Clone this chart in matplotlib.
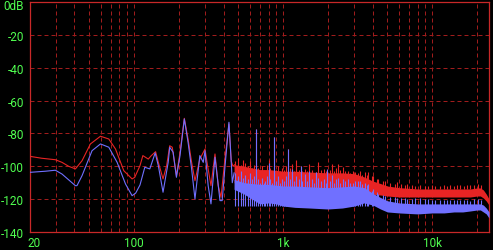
import matplotlib
matplotlib.use("Agg")
import matplotlib.pyplot as plt
from matplotlib.ticker import FixedLocator, NullFormatter
from matplotlib.transforms import ScaledTranslation

# low frequency part of both traces (Hz, dB)
red_f = [20, 24.1, 29.8, 33.0, 36.6, 40.6, 45.0, 51.2, 59.8, 68.0, 75.4, 85.7, 97.4, 101.5,
         110, 115, 125, 131, 140, 146, 157, 166, 174, 181, 193, 204, 218, 231, 244, 257,
         277, 300, 312, 329, 350, 368, 384, 408, 434, 450, 462, 475]
red_db = [-93.9, -95.1, -96.0, -97.6, -100.0, -101.6, -96.6, -86.4, -81.7, -83.4, -89.5,
          -102.7, -107.7, -106.7, -99.6, -93.5, -95.6, -93.5, -91.1, -97.6, -107.7, -99.6,
          -87.5, -88.4, -105.7, -91.5, -70.8, -83.4, -97.6, -108.8, -95.6, -89.5, -99.6,
          -111.8, -92.5, -111.8, -118.9, -95.6, -74.3, -97.0, -100.0, -99.0]

blue_f = [20, 25.6, 29.8, 33.0, 40.6, 41.6, 45.0, 52.5, 59.8, 68.0, 77.3, 88.0, 97.4, 103,
          110, 118.5, 128, 139, 146, 157, 170, 174, 183.5, 193, 204, 218, 231, 244, 257,
          277, 292, 300, 315, 329, 350, 378, 391, 408, 434, 450, 457, 470]
blue_db = [-103.7, -103.0, -102.4, -104.7, -111.8, -111.8, -105.7, -90.5, -86.4, -88.4,
           -97.6, -110.8, -117.9, -116.3, -111.4, -100.6, -101.6, -91.9, -99.6, -115.8,
           -97.6, -88.4, -91.5, -106.7, -93.5, -71.2, -85.4, -101.6, -119.9, -93.5, -97.6,
           -90.5, -111.8, -122.9, -94.5, -120.9, -120.9, -100.6, -73.2, -98.0, -110.0, -104.0]

# dense part above ~470 Hz: core of the noise band of each trace
band_f = [470, 550, 620, 700, 800, 900, 1000, 1200, 1500, 2000, 2500, 3000, 3500, 4000,
          4500, 5000, 6000, 8000, 10000, 12000, 14000, 16000, 18000, 20000, 21000, 22000,
          23000, 24000]
red_top = [-99.0, -100.0, -101.0, -102.0, -102.0, -102.5, -103.0, -103.0, -103.5, -104.0,
           -104.0, -104.5, -106.5, -109.0, -110.5, -112.0, -113.0, -113.8, -113.8, -113.8,
           -113.8, -113.8, -113.8, -113.2, -113.2, -114.4, -116.9, -119.9]
red_bot = [-110.0, -112.0, -112.0, -113.0, -113.0, -113.0, -114.0, -114.0, -114.0, -115.0,
           -115.0, -115.0, -116.0, -117.0, -117.5, -118.1, -118.7, -118.7, -118.7, -118.7,
           -118.7, -118.7, -118.7, -118.1, -118.1, -119.3, -121.1, -123.6]
blue_top = [-108.0, -110.0, -110.5, -111.0, -111.0, -111.5, -112.0, -112.0, -112.5, -113.0,
            -112.5, -112.0, -113.0, -116.5, -119.0, -121.0, -122.3, -122.9, -122.9, -122.9,
            -122.9, -122.9, -122.9, -122.9, -122.9, -123.6, -125.4, -127.8]
blue_bot = [-114.0, -117.0, -120.0, -122.9, -122.3, -122.9, -124.2, -125.0, -125.4, -126.0,
            -125.4, -124.2, -122.3, -123.6, -126.0, -127.8, -128.4, -129.0, -128.4, -128.4,
            -127.8, -127.8, -127.2, -126.6, -126.6, -127.8, -129.0, -131.5]

# spikes rising out of the band (same bins for both traces)
spike_f = [480, 500, 520, 540, 560, 580, 600, 620, 640, 659, 680, 700, 720, 740, 760, 780,
           800, 820, 840, 870, 900, 930, 960, 990, 1020, 1050, 1080, 1110, 1150, 1190, 1230,
           1270, 1310, 1350, 1400, 1450, 1500, 1560, 1620, 1665, 1725, 1800, 1870, 1940,
           1965, 2050, 2122, 2200, 2268, 2350, 2413, 2539, 2607, 2744, 2817, 2950, 3043,
           3187, 3287, 3390, 3550, 3662, 3736, 3956, 4036, 4255, 4341, 4691, 4836, 5224,
           5645, 5823, 6200, 6590, 6797, 7341, 7690, 8308, 8974, 9402, 10000, 10476, 11318,
           12000, 12612, 13210, 14000, 14700, 15413, 16200, 17000, 17989, 19000, 20354, 21200]
red_spike_db = [-97, -95, -99, -96, -98, -100, -97, -101, -99, -77.3, -101, -103, -100, -102,
                -104, -99, -96, -101, -103, -82.3, -102, -100, -103, -101, -102, -100, -89.5,
                -101, -98.6, -103, -96, -102, -99.6, -103, -101.6, -103, -98.6, -102, -104,
                -103.7, -97.6, -102, -101.6, -103, -104, -102, -98.6, -103, -101, -98.6, -102,
                -100.6, -103, -102.7, -104, -103, -103.7, -104, -102.7, -105, -103.7, -105,
                -103.7, -106, -105.7, -107.7, -108, -108.9, -109, -110.2, -110.5, -109.6,
                -111, -111.4, -111, -111.4, -111.8, -111.4, -112, -112, -111.5, -112.2, -112,
                -111.6, -111.8, -111.4, -112, -111.6, -111.4, -111.8, -111.6, -111.4, -111.2,
                -110.8, -111.4]
blue_spike_db = [-104, -106, -103, -107, -105, -108, -104, -108, -106, -77.3, -108, -110, -107,
                 -110, -109, -106, -98, -108, -110, -82.3, -109, -106, -110, -108, -109, -106,
                 -89.5, -108, -101.6, -109, -106, -108, -99.6, -109, -104.7, -109, -103, -108,
                 -110, -103.7, -107, -109, -108, -110, -101.6, -109, -105, -110, -108, -107,
                 -110, -108, -109, -108, -110, -110.2, -109, -108.9, -109, -110.8, -110,
                 -111.4, -111, -115, -114, -115.5, -116.9, -117.5, -118.1, -118.5, -118.7,
                 -119, -119.5, -119.3, -119.9, -120, -119.3, -119.3, -119.9, -120.2, -120.5,
                 -120.5, -120.5, -120.8, -120.5, -120.8, -120.5, -120.8, -120.5, -120.8,
                 -120.5, -121.1, -120.2, -120, -120.5]

y_ticks = [0, -20, -40, -60, -80, -100, -120, -140]
y_labels = ["0dB", "-20", "-40", "-60", "-80", "-100", "-120", "-140"]
x_ticks = [20, 100, 1000, 10000]
x_labels = ["20", "100", "1k", "10k"]
grid_f = [30, 40, 50, 60, 70, 80, 90, 100, 200, 300, 400, 500, 600, 700, 800, 900, 1000,
          2000, 3000, 4000, 5000, 6000, 7000, 8000, 9000, 10000, 20000]

RED = "#e82424"
BLUE = "#7070ff"
GRID = "#a01c1c"
TEXT = "#50ff50"

plt.rcParams["font.family"] = ["Roboto", "DejaVu Sans"]

fig = plt.figure(figsize=(4.93, 2.51), dpi=100, facecolor="black")
ax = fig.add_axes([29.5 / 493, 18 / 251, 459.5 / 493, 230 / 251], facecolor="black")
ax.set_xscale("log")
ax.set_xlim(20, 24000)
ax.set_ylim(-140, 0)

# grid
for f in grid_f:
    ax.axvline(f, color=GRID, lw=0.72, dashes=(4, 3), zorder=1)
for v in y_ticks[1:-1]:
    ax.axhline(v, color=GRID, lw=0.72, dashes=(4, 3), zorder=1)

# red trace
ax.fill_between(band_f, red_bot, red_top, color=RED, lw=0, zorder=2)
ax.vlines(spike_f, -114, red_spike_db, color=RED, lw=0.8, zorder=2)
ax.plot(red_f, red_db, color=RED, lw=0.8, zorder=3)

# blue trace drawn over it
ax.fill_between(band_f, blue_bot, blue_top, color=BLUE, lw=0, zorder=4)
ax.vlines(spike_f, -124, blue_spike_db, color=BLUE, lw=0.8, zorder=4)
ax.plot(blue_f, blue_db, color=BLUE, lw=0.8, zorder=5)

ax.xaxis.set_major_locator(FixedLocator(x_ticks))
ax.xaxis.set_minor_locator(FixedLocator([]))
ax.xaxis.set_minor_formatter(NullFormatter())
ax.set_xticklabels(x_labels)
ax.set_yticks(y_ticks)
ax.set_yticklabels(y_labels)
ax.tick_params(length=0, colors=TEXT, labelsize=8.5)
ax.tick_params(axis="y", pad=4)
ax.tick_params(axis="x", pad=3)

# keep "0dB" inside the figure, just below the top edge
top_label = ax.get_yticklabels()[0]
top_label.set_va("top")
top_label.set_transform(top_label.get_transform() + ScaledTranslation(0, 2 / 72, fig.dpi_scale_trans))

# "20" sits just right of the left edge
first_x = ax.get_xticklabels()[0]
first_x.set_ha("left")
first_x.set_transform(first_x.get_transform() + ScaledTranslation(-1.5 / 72, 0, fig.dpi_scale_trans))

for s in ax.spines.values():
    s.set_color("#c82828")
    s.set_linewidth(0.9)

fig.savefig("out.png", dpi=100, facecolor="black")
